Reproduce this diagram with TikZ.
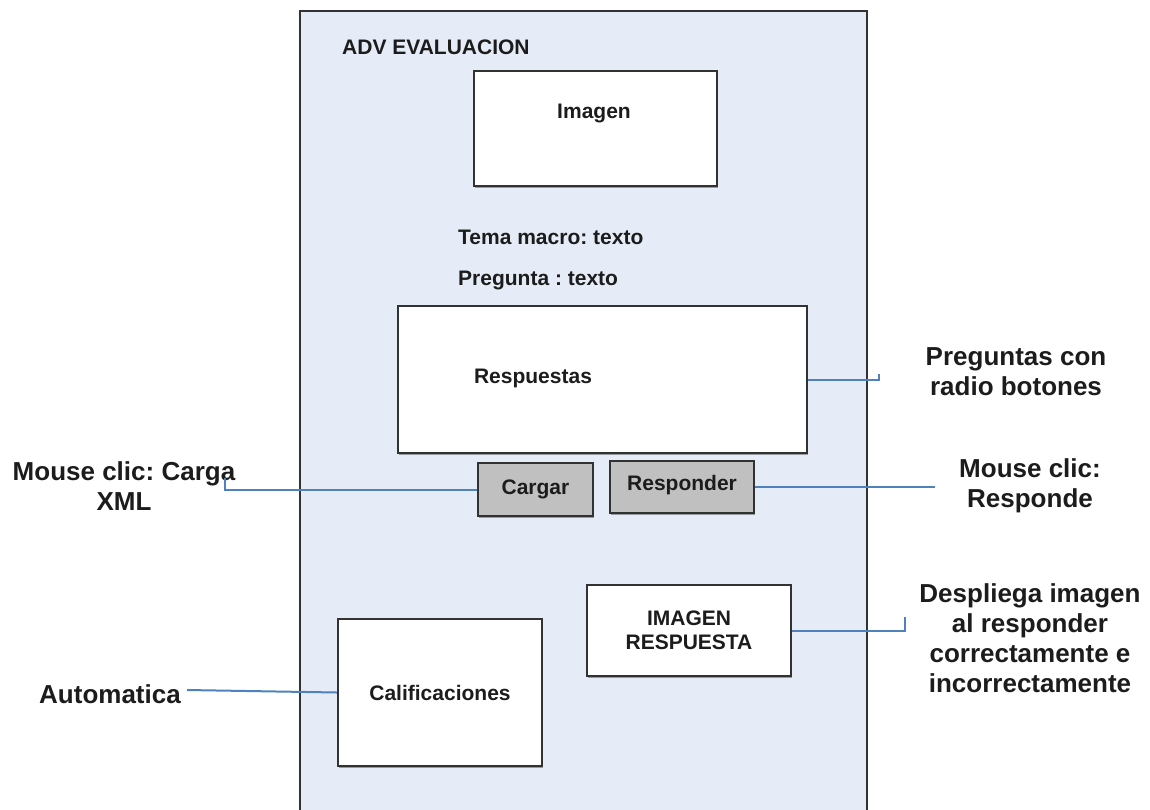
\documentclass[tikz,border=0pt]{standalone}
\usepackage{fontspec}
\setmainfont{Liberation Sans}
\usetikzlibrary{shadows}
\frenchspacing
\definecolor{panel}{RGB}{230,236,247}
\definecolor{edge}{RGB}{50,50,50}
\definecolor{btn}{RGB}{192,192,192}
\definecolor{link}{RGB}{79,129,189}
\definecolor{ink}{RGB}{28,28,28}
\begin{document}
\begin{tikzpicture}[x=1pt,y=-1pt,
  box/.style={draw=edge, line width=2.2pt, fill=white, inner sep=0pt,
    drop shadow={shadow xshift=1pt, shadow yshift=-1.5pt, fill=black, opacity=0.35}},
  button/.style={box, fill=btn},
  inner/.style={text=ink, inner sep=0pt, font=\fontsize{21}{25}\selectfont\bfseries},
  outer/.style={text=ink, inner sep=0pt, align=center, font=\fontsize{26}{30}\selectfont\bfseries},
  link/.style={draw=link, line width=2pt}
]
\useasboundingbox (0,0) rectangle (1150,809);

% screen panel, open at the bottom
\fill[panel] (300,11) rectangle (867,815);
\draw[edge, line width=2.2pt] (300,815) -- (300,11) -- (867,11) -- (867,815);
\node[inner, anchor=west] (title) at (342,47) {ADV EVALUACION};

% image area
\node[box, minimum width=243pt, minimum height=115pt] (img) at (595.5,128.5) {};
\node[inner] (imgtxt) at (594,113) {Imagen};

% question texts
\node[inner, anchor=west] (tema) at (458,237) {Tema macro: texto};
\node[inner, anchor=west] (preg) at (458,280) {Pregunta : texto};

% answers area
\node[box, minimum width=409pt, minimum height=147pt] (resp) at (602.5,379.5) {};
\node[inner] (resptxt) at (533,378) {Respuestas};

% buttons
\node[button, inner, minimum width=115pt, minimum height=53pt] (cargar) at (535.5,489.5) {Cargar};
\node[button, minimum width=144pt, minimum height=52pt] (responder) at (682,487) {};
\node[inner] (resptbtn) at (682,485) {Responder};

% answer image and grades
\node[box, inner, align=center, minimum width=204pt, minimum height=91pt] (imgresp) at (689,630.5) {IMAGEN\\[-1pt]RESPUESTA};
\node[box, inner, minimum width=204pt, minimum height=147pt] (calif) at (440,692.5) {Calificaciones};

% annotations
\node[outer] (notepreg) at (1016,372) {Preguntas con\\radio botones};
\node[outer] (notecarga) at (124,486) {Mouse clic: Carga\\XML};
\node[outer] (noteresp) at (1030,486) {Mouse clic:\\Responde};
\node[outer] (notedesp) at (1030,638) {Despliega imagen\\al responder\\correctamente e\\incorrectamente};
\node[outer] (noteauto) at (110,694) {Automatica};

% connectors
\coordinate (pregend) at (879,374);
\coordinate (cargaend) at (225,478);
\coordinate (respend) at (935,487);
\coordinate (despend) at (905,617);
\coordinate (autoend) at (187,690);
\draw[link] (resp.east) -- (pregend |- resp.east) -- (pregend);
\draw[link] (cargar.west) -- (cargaend |- cargar.west) -- (cargaend);
\draw[link] (responder.east) -- (respend);
\draw[link] (imgresp.east) -- (despend |- imgresp.east) -- (despend);
\draw[link] (calif.west) -- (autoend);
\end{tikzpicture}
\end{document}
